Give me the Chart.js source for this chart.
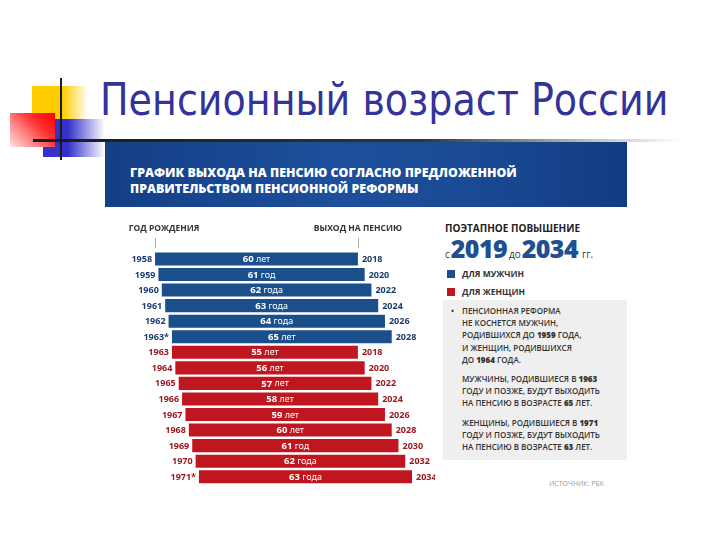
<!DOCTYPE html>
<html lang="ru">
<head>
<meta charset="utf-8">
<script src="https://cdn.jsdelivr.net/npm/chart.js@4/dist/chart.umd.min.js"></script>
<style>
  html, body { margin: 0; padding: 0; background: #fff; }
  #slide { position: relative; width: 720px; height: 540px; overflow: hidden; font-family: "Open Sans", "Noto Sans", sans-serif; }
  .abs { position: absolute; }
  #title { left: 100px; top: 74px; font: 44px "DejaVu Sans", sans-serif; color: #333399; white-space: nowrap; transform-origin: 0 0; }
  #banner { left: 105px; top: 142px; width: 522px; height: 65px;
    background: linear-gradient(to right, #143f86 0%, #1d4f9c 45%, #1a4a95 70%, #123c82 100%); }
  #banner div { position: absolute; left: 25px; color: #fff; font: 800 13px "Open Sans", sans-serif; white-space: nowrap; transform-origin: 0 0; }
  #panel { left: 443px; top: 300px; width: 184px; height: 160px; background: #efefef; border-radius: 2px; }
  #panel p { position: absolute; left: 19px; margin: 0; font: 600 8px/12.2px "Open Sans", sans-serif; color: #333; white-space: nowrap; }
  .legend { font: 700 8.5px "Open Sans", sans-serif; color: #333; white-space: nowrap; }
  .sq { width: 8px; height: 8px; }
  .big { font: 800 25px "Open Sans", sans-serif; color: #1d4f91; letter-spacing: -0.6px; }
  .sm { margin: 0 2px 0 1px; }
</style>
</head>
<body>
<div id="slide">
  <!-- декоративные квадраты слайда -->
  <div class="abs" style="left:32px;top:86px;width:56px;height:34px;background:linear-gradient(to right,#ffcc00 0%,#ffcc00 55%,rgba(255,204,0,0) 100%)"></div>
  <div class="abs" style="left:43px;top:119px;width:62px;height:38px;background:linear-gradient(to right,#3333cc 0%,#3333cc 40%,rgba(51,51,204,0) 100%)"></div>
  <div class="abs" style="left:10px;top:113px;width:45px;height:34px;background:linear-gradient(225deg,#ff0000 0%,#ff3030 35%,#ffe4e4 100%)"></div>
  <div class="abs" style="left:33px;top:139px;width:650px;height:3px;background:linear-gradient(to right,#1a1a1a 0%,#333 60%,#bbb 85%,rgba(255,255,255,0) 100%)"></div>
  <div class="abs" style="left:60px;top:78px;width:2px;height:82px;background:#1a1a1a"></div>

  <div id="title" class="abs">Пенсионный возраст России</div>

  <div id="banner" class="abs">
    <div id="b1" style="top:21px">ГРАФИК ВЫХОДА НА ПЕНСИЮ СОГЛАСНО ПРЕДЛОЖЕННОЙ</div>
    <div id="b2" style="top:37px">ПРАВИТЕЛЬСТВОМ ПЕНСИОННОЙ РЕФОРМЫ</div>
  </div>

  <div class="abs" style="left:105px;top:215px;width:330px;height:280px">
    <canvas id="chart" width="330" height="280"></canvas>
  </div>

  <!-- правая колонка -->
  <div class="abs" style="left:445px;top:221px;font:700 10px 'Open Sans',sans-serif;color:#222;white-space:nowrap">ПОЭТАПНОЕ ПОВЫШЕНИЕ</div>
  <div class="abs" style="left:445px;top:231px;white-space:nowrap;color:#333;font:10px 'Open Sans',sans-serif"><span>с</span><span class="big sm">2019</span><span>до</span><span class="big sm">2034</span><span style="margin-left:2px">гг.</span></div>
  <div class="abs sq" style="left:447px;top:270px;background:#1b4f8c"></div>
  <div class="abs legend" style="left:462px;top:268px">ДЛЯ МУЖЧИН</div>
  <div class="abs sq" style="left:447px;top:288px;background:#c0161f"></div>
  <div class="abs legend" style="left:462px;top:286px">ДЛЯ ЖЕНЩИН</div>

  <div id="panel" class="abs">
    <p style="left:8px;top:5px">•</p>
    <p style="top:5px">ПЕНСИОННАЯ РЕФОРМА<br>НЕ КОСНЕТСЯ МУЖЧИН,<br>РОДИВШИХСЯ ДО <b>1959</b> ГОДА,<br>И ЖЕНЩИН, РОДИВШИХСЯ<br>ДО <b>1964</b> ГОДА.</p>
    <p style="top:73px">МУЖЧИНЫ, РОДИВШИЕСЯ В <b>1963</b><br>ГОДУ И ПОЗЖЕ, БУДУТ ВЫХОДИТЬ<br>НА ПЕНСИЮ В ВОЗРАСТЕ <b>65</b> ЛЕТ.</p>
    <p style="top:117px">ЖЕНЩИНЫ, РОДИВШИЕСЯ В <b>1971</b><br>ГОДУ И ПОЗЖЕ, БУДУТ ВЫХОДИТЬ<br>НА ПЕНСИЮ В ВОЗРАСТЕ <b>63</b> ЛЕТ.</p>
  </div>

  <div class="abs" style="left:549px;top:479px;font:7px 'Open Sans',sans-serif;color:#9a9a9a">ИСТОЧНИК: РБК</div>
</div>

<script>
// данные графика
const birthLabels = ["1958", "1959", "1960", "1961", "1962", "1963*", "1963", "1964", "1965", "1966", "1967", "1968", "1969", "1970", "1971*"];
const birthYears  = [1958, 1959, 1960, 1961, 1962, 1963, 1963, 1964, 1965, 1966, 1967, 1968, 1969, 1970, 1971];
const retireYears = [2018, 2020, 2022, 2024, 2026, 2028, 2018, 2020, 2022, 2024, 2026, 2028, 2030, 2032, 2034];
const ages        = [60, 61, 62, 63, 64, 65, 55, 56, 57, 58, 59, 60, 61, 62, 63];
const ageWords    = ["лет", "год", "года", "года", "года", "лет", "лет", "лет", "лет", "лет", "лет", "лет", "год", "года", "года"];
const sexes       = ["m", "m", "m", "m", "m", "m", "f", "f", "f", "f", "f", "f", "f", "f", "f"];

const BLUE = "#1b4f8c", RED = "#c0161f";
const BLUE_TXT = "#1d3d6e", RED_TXT = "#9a1a20";

// подгоняем ширину заголовка и плашки
const title = document.getElementById("title");
title.style.transform = `scaleX(${568 / title.offsetWidth})`;
const b1 = document.getElementById("b1"), b2 = document.getElementById("b2");
const bs = 387 / b1.offsetWidth;
b1.style.transform = b2.style.transform = `scaleX(${bs})`;

const rangeFor = sex => birthYears.map((b, i) => sexes[i] === sex ? [b, retireYears[i]] : null);

const labelsPlugin = {
  id: "barLabels",
  afterDatasetsDraw(chart) {
    const ctx = chart.ctx;
    const x = chart.scales.x;
    ctx.save();

    // заголовки колонок и засечки
    const x0 = x.getPixelForValue(birthYears[0]);
    const x1 = x.getPixelForValue(retireYears[0]);
    ctx.fillStyle = "#333";
    ctx.font = "700 8.5px 'Open Sans'";
    ctx.textBaseline = "middle";
    ctx.textAlign = "center";
    ctx.fillText("ГОД РОЖДЕНИЯ", x0 + 9, 14);
    ctx.fillText("ВЫХОД НА ПЕНСИЮ", x1, 14);
    ctx.strokeStyle = "#aaa";
    ctx.lineWidth = 1;
    [x0, x1].forEach(px => {
      ctx.beginPath();
      ctx.moveTo(Math.round(px) + 0.5, 23);
      ctx.lineTo(Math.round(px) + 0.5, 33);
      ctx.stroke();
    });

    chart.data.datasets.forEach((ds, di) => {
      chart.getDatasetMeta(di).data.forEach((bar, i) => {
        if (!ds.data[i]) return;
        const left = Math.min(bar.x, bar.base), right = Math.max(bar.x, bar.base);
        const y = bar.y + 0.5;
        const txt = sexes[i] === "m" ? BLUE_TXT : RED_TXT;

        ctx.fillStyle = txt;
        ctx.font = "700 9px 'Noto Sans'";
        ctx.textAlign = "right";
        ctx.fillText(birthLabels[i], left - 3, y);
        ctx.textAlign = "left";
        ctx.fillText(String(retireYears[i]), right + 4, y);

        // подпись внутри полосы: число жирным, слово обычным
        const num = String(ages[i]), word = " " + ageWords[i];
        ctx.font = "700 9.5px 'Noto Sans'";
        const wn = ctx.measureText(num).width;
        ctx.font = "9px 'Noto Sans'";
        const ww = ctx.measureText(word).width;
        let sx = (left + right) / 2 - (wn + ww) / 2;
        ctx.fillStyle = "#fff";
        ctx.font = "700 9.5px 'Noto Sans'";
        ctx.fillText(num, sx, y);
        ctx.font = "9px 'Noto Sans'";
        ctx.fillText(word, sx + wn, y);
      });
    });
    ctx.restore();
  }
};

new Chart(document.getElementById("chart"), {
  type: "bar",
  data: {
    labels: birthLabels,
    datasets: [
      { label: "Для мужчин", data: rangeFor("m"), backgroundColor: BLUE, grouped: false },
      { label: "Для женщин", data: rangeFor("f"), backgroundColor: RED, grouped: false }
    ]
  },
  options: {
    indexAxis: "y",
    responsive: false,
    animation: false,
    layout: { padding: { top: 36.2, bottom: 10.5, left: 0, right: 0 } },
    datasets: { bar: { categoryPercentage: 1, barPercentage: 0.84, borderSkipped: false } },
    plugins: { legend: { display: false }, tooltip: { enabled: false } },
    scales: {
      x: { type: "linear", min: 1943.2, max: 2040.8, display: false },
      y: { display: false }
    }
  },
  plugins: [labelsPlugin]
});
</script>
</body>
</html>
